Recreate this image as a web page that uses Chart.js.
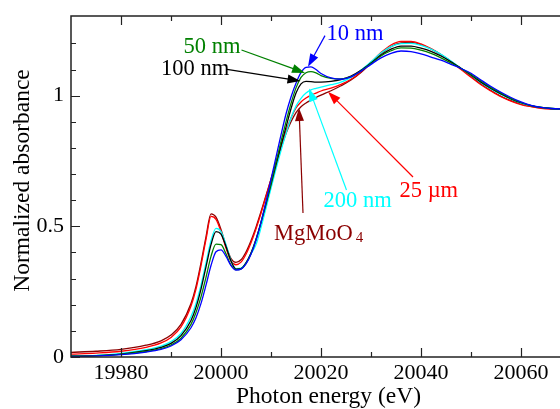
<!DOCTYPE html>
<html>
<head>
<meta charset="utf-8">
<script src="https://cdn.jsdelivr.net/npm/chart.js@4.4.1/dist/chart.umd.min.js"></script>
<style>
  html, body { margin: 0; padding: 0; background: #fff; overflow: hidden; }
  canvas { display: block; }
</style>
</head>
<body>
<canvas id="xanes" width="586" height="409"></canvas>
<script>
// Photon energy grid (eV)
const energy = [19970, 19975, 19980, 19985, 19988, 19990, 19992, 19994,
  19995, 19996, 19997, 19998, 19999, 20000, 20001, 20002, 20003, 20004, 20005,
  20006, 20007, 20008, 20009, 20010, 20011, 20012, 20013, 20014, 20015, 20016,
  20017, 20018, 20019, 20020, 20022, 20024, 20026, 20028, 20030, 20032, 20034,
  20036, 20038, 20040, 20042, 20044, 20046, 20048, 20050, 20052, 20054, 20056,
  20058, 20060, 20062, 20064, 20066, 20068, 20070];

// Normalized absorbance for each sample
const mgmoo4 = [0.018, 0.022, 0.029, 0.045, 0.062, 0.084, 0.125, 0.205,
  0.27, 0.36, 0.46, 0.548, 0.535, 0.488, 0.425, 0.377, 0.362, 0.372, 0.402,
  0.445, 0.497, 0.556, 0.618, 0.68, 0.742, 0.8, 0.855, 0.9, 0.935, 0.958,
  0.972, 0.983, 0.993, 1.002, 1.019, 1.038, 1.06, 1.089, 1.124, 1.16, 1.188,
  1.202, 1.204, 1.195, 1.179, 1.157, 1.131, 1.103, 1.074, 1.045, 1.02, 0.998,
  0.981, 0.968, 0.959, 0.953, 0.95, 0.948, 0.947];
const um25 = [0.011, 0.015, 0.022, 0.037, 0.054, 0.075, 0.115, 0.195,
  0.26, 0.35, 0.45, 0.538, 0.527, 0.48, 0.417, 0.368, 0.353, 0.363, 0.393,
  0.437, 0.49, 0.55, 0.614, 0.68, 0.745, 0.807, 0.865, 0.915, 0.953, 0.976,
  0.991, 1.002, 1.01, 1.018, 1.029, 1.043, 1.063, 1.092, 1.128, 1.165, 1.194,
  1.208, 1.208, 1.198, 1.18, 1.157, 1.13, 1.1, 1.071, 1.042, 1.018, 0.996,
  0.979, 0.966, 0.958, 0.952, 0.949, 0.948, 0.947];
const nm200 = [0.004, 0.006, 0.014, 0.028, 0.042, 0.059, 0.09, 0.155,
  0.205, 0.275, 0.36, 0.445, 0.492, 0.48, 0.43, 0.37, 0.338, 0.34, 0.36,
  0.395, 0.43, 0.495, 0.57, 0.645, 0.72, 0.79, 0.855, 0.915, 0.96, 0.99,
  1.01, 1.022, 1.028, 1.033, 1.042, 1.052, 1.07, 1.098, 1.13, 1.163, 1.188,
  1.199, 1.2, 1.193, 1.178, 1.158, 1.133, 1.105, 1.078, 1.05, 1.026, 1.005,
  0.987, 0.972, 0.962, 0.955, 0.951, 0.949, 0.948];
const nm100 = [0.003, 0.005, 0.011, 0.024, 0.037, 0.052, 0.082, 0.14,
  0.19, 0.26, 0.345, 0.43, 0.48, 0.47, 0.423, 0.367, 0.336, 0.338, 0.36,
  0.398, 0.45, 0.515, 0.585, 0.66, 0.735, 0.81, 0.88, 0.95, 1.01, 1.045,
  1.055, 1.054, 1.052, 1.052, 1.055, 1.062, 1.075, 1.097, 1.125, 1.155, 1.178,
  1.19, 1.19, 1.182, 1.17, 1.152, 1.13, 1.105, 1.079, 1.052, 1.028, 1.007,
  0.988, 0.973, 0.962, 0.955, 0.951, 0.949, 0.948];
const nm50 = [0.003, 0.005, 0.01, 0.021, 0.032, 0.046, 0.072, 0.125,
  0.17, 0.23, 0.305, 0.385, 0.432, 0.43, 0.395, 0.352, 0.334, 0.337, 0.358,
  0.396, 0.45, 0.515, 0.59, 0.665, 0.745, 0.825, 0.9, 0.97, 1.03, 1.07,
  1.088, 1.092, 1.087, 1.077, 1.066, 1.064, 1.073, 1.095, 1.123, 1.152, 1.172,
  1.183, 1.182, 1.174, 1.162, 1.145, 1.125, 1.104, 1.082, 1.056, 1.031, 1.01,
  0.99, 0.974, 0.962, 0.955, 0.951, 0.949, 0.948];
const nm10 = [0.002, 0.004, 0.009, 0.019, 0.029, 0.042, 0.066, 0.112,
  0.15, 0.205, 0.275, 0.35, 0.403, 0.41, 0.385, 0.35, 0.333, 0.336, 0.356,
  0.393, 0.447, 0.515, 0.595, 0.68, 0.765, 0.85, 0.93, 0.995, 1.048, 1.088,
  1.108, 1.11, 1.1, 1.085, 1.068, 1.063, 1.072, 1.094, 1.12, 1.145, 1.162,
  1.171, 1.169, 1.16, 1.148, 1.136, 1.12, 1.104, 1.086, 1.06, 1.035, 1.013,
  0.993, 0.976, 0.963, 0.955, 0.951, 0.949, 0.948];

// Axis ticks
const xMajor = [19980, 20000, 20020, 20040, 20060];
const xMinor = [19990, 20010, 20030, 20050, 20070];
const yMajor = [0, 0.5, 1];
const yMinor = [0.1, 0.2, 0.3, 0.4, 0.6, 0.7, 0.8, 0.9, 1.1, 1.2];

// Labels: text baseline point, arrow start and arrow tip (data units)
const labelText  = ['10 nm', '50 nm', '100 nm', '200 nm', '25 \u00b5m', 'MgMoO'];
const labelColor = ['#0000ff', '#008000', '#000000', '#00ffff', '#ff0000', '#8b0000'];
const labelPos   = [[20021.1, 1.213], [19992.5, 1.162], [19988.0, 1.079],
                    [20020.5, 0.574], [20035.7, 0.614], [20010.6, 0.448]];
const arrowFrom  = [[20020.8, 1.23], [20004.1, 1.175], [20001.2, 1.101],
                    [20025.1, 0.639], [20038.4, 0.689], [20016.4, 0.551]];
const arrowTo    = [[20017.4, 1.111], [20016.8, 1.087], [20015.9, 1.056],
                    [20017.6, 1.028], [20021.4, 1.015], [20015.6, 0.953]];

const FONT = "'Liberation Serif', 'Times New Roman', serif";

function series(label, values, color) {
    return {
        label: label,
        data: energy.map((e, i) => ({ x: e, y: values[i] })),
        borderColor: color,
        borderWidth: 1.3,
        pointRadius: 0,
        fill: false,
        cubicInterpolationMode: 'monotone'
    };
}

// Frame with inward ticks, y title, then the arrow labels
const framePlugin = {
    id: 'frame',
    afterDraw(chart) {
        const ctx = chart.ctx;
        const a = chart.chartArea;
        const xs = chart.scales.x, ys = chart.scales.y;
        ctx.save();
        ctx.strokeStyle = '#222';
        ctx.lineWidth = 1.5;
        ctx.strokeRect(a.left, a.top, a.right - a.left, a.bottom - a.top);

        ctx.lineWidth = 1.2;
        ctx.beginPath();
        const tickX = (vals, len) => vals.forEach(v => {
            const px = Math.round(xs.getPixelForValue(v)) + 0.5;
            ctx.moveTo(px, a.bottom); ctx.lineTo(px, a.bottom - len);
            ctx.moveTo(px, a.top); ctx.lineTo(px, a.top + len);
        });
        const tickY = (vals, len) => vals.forEach(v => {
            const py = Math.round(ys.getPixelForValue(v)) + 0.5;
            ctx.moveTo(a.left, py); ctx.lineTo(a.left + len, py);
            ctx.moveTo(a.right, py); ctx.lineTo(a.right - len, py);
        });
        tickX(xMajor, 9); tickX(xMinor, 5);
        tickY(yMajor, 9); tickY(yMinor, 5);
        ctx.stroke();

        // y axis title
        ctx.fillStyle = '#000';
        ctx.font = '23.5px ' + FONT;
        ctx.textAlign = 'center';
        ctx.textBaseline = 'middle';
        ctx.translate(23, (a.top + a.bottom) / 2 - 6);
        ctx.rotate(-Math.PI / 2);
        ctx.fillText('Normalized absorbance', 0, 0);
        ctx.setTransform(1, 0, 0, 1, 0, 0);

        // arrows
        labelText.forEach((t, i) => {
            const x0 = xs.getPixelForValue(arrowFrom[i][0]);
            const y0 = ys.getPixelForValue(arrowFrom[i][1]);
            const x1 = xs.getPixelForValue(arrowTo[i][0]);
            const y1 = ys.getPixelForValue(arrowTo[i][1]);
            const ang = Math.atan2(y1 - y0, x1 - x0);
            const hl = 13, hw = 4.5;
            ctx.strokeStyle = labelColor[i];
            ctx.fillStyle = labelColor[i];
            ctx.lineWidth = 1.2;
            ctx.beginPath();
            ctx.moveTo(x0, y0);
            ctx.lineTo(x1 - Math.cos(ang) * hl * 0.8, y1 - Math.sin(ang) * hl * 0.8);
            ctx.stroke();
            ctx.beginPath();
            ctx.moveTo(x1, y1);
            ctx.lineTo(x1 - Math.cos(ang) * hl - Math.sin(ang) * hw, y1 - Math.sin(ang) * hl + Math.cos(ang) * hw);
            ctx.lineTo(x1 - Math.cos(ang) * hl + Math.sin(ang) * hw, y1 - Math.sin(ang) * hl - Math.cos(ang) * hw);
            ctx.closePath();
            ctx.fill();

            // text
            const tx = xs.getPixelForValue(labelPos[i][0]);
            const ty = ys.getPixelForValue(labelPos[i][1]);
            ctx.font = '22.5px ' + FONT;
            ctx.textAlign = 'left';
            ctx.textBaseline = 'alphabetic';
            ctx.fillText(t, tx, ty);
            if (t === 'MgMoO') {
                const w = ctx.measureText(t).width;
                ctx.font = '15px ' + FONT;
                ctx.fillText('4', tx + w + 3, ty + 2);
            }
        });
        ctx.restore();
    }
};

new Chart(document.getElementById('xanes'), {
    type: 'line',
    data: {
        datasets: [
            series('10 nm', nm10, '#0000ff'),
            series('50 nm', nm50, '#008000'),
            series('100 nm', nm100, '#000000'),
            series('200 nm', nm200, '#00ffff'),
            series('25 \u00b5m', um25, '#ff0000'),
            series('MgMoO4', mgmoo4, '#8b0000')
        ]
    },
    options: {
        responsive: false,
        animation: false,
        layout: { padding: { top: 16, right: 0, left: 0, bottom: 0 } },
        plugins: {
            legend: { display: false },
            tooltip: { enabled: false }
        },
        scales: {
            x: {
                type: 'linear',
                min: 19970,
                max: 20073,
                grid: { display: false, drawTicks: false },
                border: { display: false },
                afterBuildTicks: s => { s.ticks = xMajor.map(v => ({ value: v })); },
                afterFit: s => { s.height = 52; s.paddingLeft = 0; s.paddingRight = 0; },
                ticks: {
                    padding: 3,
                    color: '#000',
                    maxRotation: 0,
                    font: { family: FONT, size: 22 },
                    callback: v => String(v)
                },
                title: {
                    display: true,
                    text: 'Photon energy (eV)',
                    color: '#000',
                    padding: { top: 0, bottom: -2 },
                    font: { family: FONT, size: 23.5 }
                }
            },
            y: {
                min: 0,
                max: 1.305,
                grid: { display: false, drawTicks: false },
                border: { display: false },
                afterBuildTicks: s => { s.ticks = yMajor.map(v => ({ value: v })); },
                afterFit: s => { s.width = 71; s.paddingTop = 0; s.paddingBottom = 0; },
                ticks: {
                    padding: 7,
                    color: '#000',
                    font: { family: FONT, size: 22 },
                    callback: v => String(v)
                }
            }
        }
    },
    plugins: [framePlugin]
});
</script>
</body>
</html>
